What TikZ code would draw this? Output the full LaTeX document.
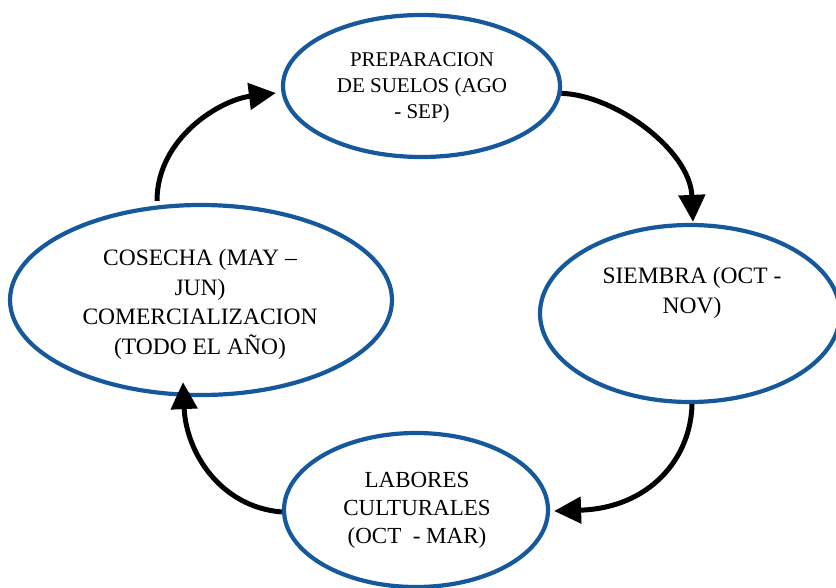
\documentclass[tikz,border=0pt]{standalone}
\usepackage{fontspec}
\setmainfont{Liberation Serif}
\usetikzlibrary{shapes.geometric,arrows.meta}
\definecolor{ringblue}{RGB}{22,88,156}
\tikzset{
  ring/.style={ellipse, draw=ringblue, line width=4.2pt, fill=white, inner sep=0pt},
  lbl/.style={align=center, inner sep=0pt, text=black},
  flow/.style={line width=5pt, -{Triangle[length=27pt,width=26pt]}}
}
\begin{document}
\begin{tikzpicture}[x=1pt,y=-1pt]
\useasboundingbox (0,0) rectangle (836,587);
% ellipses
\node[ring, minimum width=277pt, minimum height=142pt] (top) at (421.5,86) {};
\node[ring, minimum width=300pt, minimum height=177pt] (right) at (690,313.5) {};
\node[ring, minimum width=382pt, minimum height=190pt] (left) at (201,300) {};
\node[ring, minimum width=264pt, minimum height=154pt] (bottom) at (416,510) {};
% texts
\node[lbl, font=\fontsize{21}{26}\selectfont] (ttop) at (422,88)
  {PREPARACION\\DE SUELOS (AGO\\- SEP)};
\node[lbl, font=\fontsize{23.5}{30}\selectfont] (tright) at (692,293)
  {SIEMBRA (OCT -\\NOV)};
\node[lbl, font=\fontsize{23.5}{29.5}\selectfont] (tleft) at (200,304.5)
  {COSECHA (MAY –\\JUN)\\COMERCIALIZACION\\(TODO EL AÑO)};
\node[lbl, font=\fontsize{23}{28}\selectfont] (tbottom) at (417,510.5)
  {LABORES\\CULTURALES\\(OCT\ \ - MAR)};
% connectors
\draw[flow] (top.-3) .. controls (615,95) and (690,150) .. ([xshift=3pt,yshift=1pt]right.north);
\draw[flow] ([xshift=2pt]right.south) .. controls (691,458) and (650,508) .. ([xshift=4pt,yshift=-1pt]bottom.east);
\draw[flow] ([yshift=-2pt]bottom.west) .. controls (220,507) and (186,452) .. ([xshift=-18pt,yshift=15pt]left.south);
\draw[flow] ([xshift=-44pt,yshift=2pt]left.north) .. controls (157,138) and (220,100) .. ([xshift=-5pt,yshift=-7pt]top.west);
\end{tikzpicture}
\end{document}
